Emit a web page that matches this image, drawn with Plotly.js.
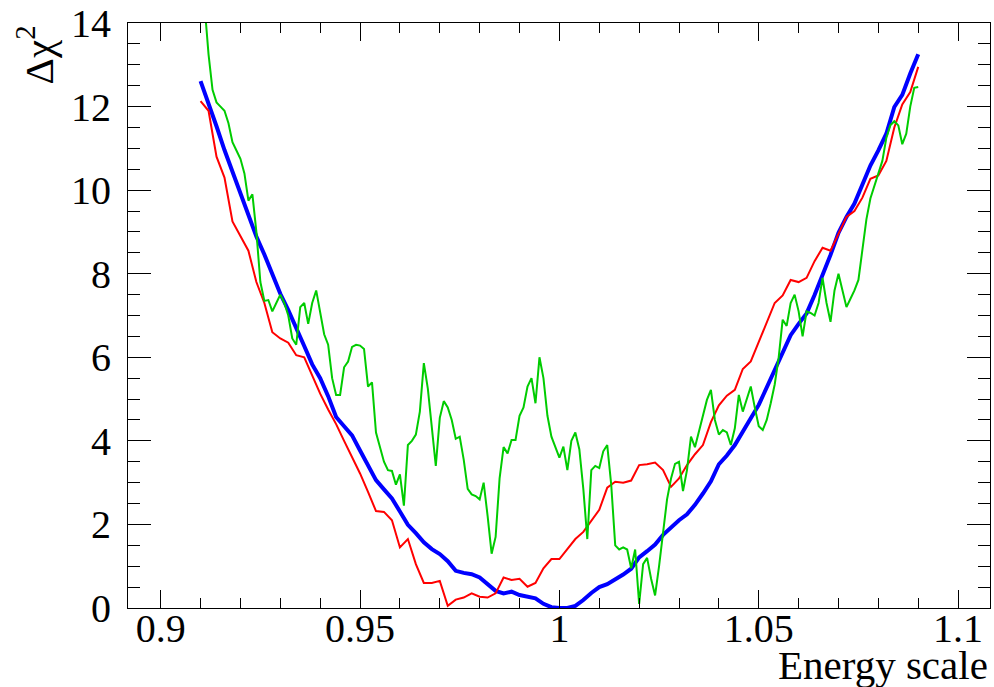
<!DOCTYPE html>
<html>
<head>
<meta charset="utf-8">
<script src="https://cdn.plot.ly/plotly-3.0.1.min.js"></script>
<style>
html,body{margin:0;padding:0;background:#fff;}
#chart{width:994px;height:687px;}
</style>
</head>
<body>
<div id="chart"></div>
<script>
// Energy-scale grid, step 0.002 (blue & red scans)
const scaleCoarse = [0.910,0.912,0.914,0.916,0.918,0.920,0.922,0.924,0.926,0.928,
0.930,0.932,0.934,0.936,0.938,0.940,0.942,0.944,0.946,0.948,
0.950,0.952,0.954,0.956,0.958,0.960,0.962,0.964,0.966,0.968,
0.970,0.972,0.974,0.976,0.978,0.980,0.982,0.984,0.986,0.988,
0.990,0.992,0.994,0.996,0.998,1.000,1.002,1.004,1.006,1.008,
1.010,1.012,1.014,1.016,1.018,1.020,1.022,1.024,1.026,1.028,
1.030,1.032,1.034,1.036,1.038,1.040,1.042,1.044,1.046,1.048,
1.050,1.052,1.054,1.056,1.058,1.060,1.062,1.064,1.066,1.068,
1.070,1.072,1.074,1.076,1.078,1.080,1.082,1.084,1.086,1.088,1.090];

const chi2Blue = [12.61,12.09,11.53,10.96,10.45,9.94,9.39,8.89,8.46,7.99,
7.52,7.13,6.67,6.27,5.83,5.50,5.07,4.57,4.35,4.13,
3.77,3.39,3.06,2.84,2.62,2.31,1.99,1.79,1.57,1.41,
1.29,1.12,0.89,0.84,0.81,0.73,0.57,0.41,0.35,0.39,
0.31,0.28,0.23,0.10,0.02,0.00,0.00,0.05,0.19,0.36,
0.50,0.57,0.68,0.80,0.94,1.21,1.36,1.52,1.75,1.94,
2.10,2.24,2.47,2.74,3.03,3.44,3.65,3.90,4.20,4.54,
4.86,5.29,5.72,6.14,6.53,6.80,7.05,7.49,7.95,8.45,
8.98,9.36,9.68,10.14,10.59,10.95,11.35,11.99,12.28,12.79,13.25];

const chi2Red = [12.13,11.9,10.8,10.3,9.25,8.9,8.55,7.8,7.3,6.6,
6.45,6.35,6.05,6.0,5.55,5.13,4.75,4.4,4.0,3.62,
3.22,2.78,2.32,2.3,2.1,1.45,1.65,1.05,0.6,0.6,
0.65,0.05,0.2,0.25,0.35,0.27,0.25,0.35,0.73,0.67,
0.7,0.51,0.6,0.95,1.17,1.17,1.4,1.65,1.82,2.1,
2.35,2.88,3.02,3.0,3.05,3.42,3.44,3.48,3.3,2.9,
3.1,3.42,3.68,3.9,4.45,4.85,5.08,5.22,5.72,5.9,
6.37,6.8,7.3,7.48,7.85,7.8,7.9,8.3,8.62,8.55,
8.95,9.36,9.5,9.82,10.27,10.35,10.7,11.5,12.05,12.35,12.95];

// Energy-scale grid, step 0.001 (green scan)
const scaleFine = [0.910,0.911,0.912,0.913,0.914,0.915,0.916,0.917,0.918,0.919,
0.920,0.921,0.922,0.923,0.924,0.925,0.926,0.927,0.928,0.929,
0.930,0.931,0.932,0.933,0.934,0.935,0.936,0.937,0.938,0.939,
0.940,0.941,0.942,0.943,0.944,0.945,0.946,0.947,0.948,0.949,
0.950,0.951,0.952,0.953,0.954,0.955,0.956,0.957,0.958,0.959,
0.960,0.961,0.962,0.963,0.964,0.965,0.966,0.967,0.968,0.969,
0.970,0.971,0.972,0.973,0.974,0.975,0.976,0.977,0.978,0.979,
0.980,0.981,0.982,0.983,0.984,0.985,0.986,0.987,0.988,0.989,
0.990,0.991,0.992,0.993,0.994,0.995,0.996,0.997,0.998,0.999,
1.000,1.001,1.002,1.003,1.004,1.005,1.006,1.007,1.008,1.009,
1.010,1.011,1.012,1.013,1.014,1.015,1.016,1.017,1.018,1.019,
1.020,1.021,1.022,1.023,1.024,1.025,1.026,1.027,1.028,1.029,
1.030,1.031,1.032,1.033,1.034,1.035,1.036,1.037,1.038,1.039,
1.040,1.041,1.042,1.043,1.044,1.045,1.046,1.047,1.048,1.049,
1.050,1.051,1.052,1.053,1.054,1.055,1.056,1.057,1.058,1.059,
1.060,1.061,1.062,1.063,1.064,1.065,1.066,1.067,1.068,1.069,
1.070,1.071,1.072,1.073,1.074,1.075,1.076,1.077,1.078,1.079,
1.080,1.081,1.082,1.083,1.084,1.085,1.086,1.087,1.088,1.089,1.090];

const chi2Green = [15.6,14.4,13.25,12.4,12.1,12.0,11.9,11.6,11.15,10.95,
10.75,10.4,9.75,9.9,9.0,7.8,7.35,7.37,7.1,7.3,
7.5,7.3,7.0,6.45,6.3,7.2,7.3,6.8,7.3,7.6,
7.1,6.55,6.3,5.5,5.1,5.1,5.76,5.9,6.25,6.3,
6.28,6.2,5.3,5.4,4.2,3.85,3.5,3.3,3.28,2.95,
3.2,2.45,3.9,4.0,4.15,4.7,5.86,5.25,4.3,3.4,
4.55,4.95,4.8,4.5,4.05,4.1,3.55,2.85,2.72,2.68,
2.6,3.0,2.2,1.3,1.7,3.1,3.85,3.7,4.02,4.02,
4.6,4.8,5.3,5.5,4.9,6.0,5.5,4.6,4.1,3.85,
3.6,3.86,3.3,4.0,4.2,3.8,2.85,1.65,3.3,3.4,
3.35,3.75,3.9,2.95,1.5,1.4,1.45,1.4,0.95,1.4,
0.1,1.05,1.2,0.7,0.3,1.0,1.75,2.6,3.1,3.45,
3.5,2.8,3.3,4.1,3.85,4.25,4.62,4.98,5.22,4.5,
4.15,4.26,4.2,3.9,4.3,5.1,4.7,5.0,5.3,4.8,
4.35,4.26,4.5,4.9,5.35,6.0,6.9,6.75,7.3,7.5,
7.1,6.5,7.1,7.06,7.0,7.3,7.9,7.3,6.85,7.6,
8.0,7.6,7.2,7.4,7.6,7.85,8.6,9.3,9.8,10.1,
10.4,10.7,11.25,11.55,11.65,11.55,11.1,11.35,12.0,12.45,12.47];

const xTickVals = [0.9, 0.95, 1, 1.05, 1.1];
const xTickText = ['0.9', '0.95', '1', '1.05', '1.1'];
const yTickVals = [0, 2, 4, 6, 8, 10, 12, 14];
const yTickText = ['0', '2', '4', '6', '8', '10', '12', '14'];

const FONT = "'Liberation Serif', 'DejaVu Serif', serif";

const traces = [
  {x: scaleCoarse, y: chi2Blue, mode: 'lines', line: {color: '#0000ff', width: 4}, hoverinfo: 'skip'},
  {x: scaleCoarse, y: chi2Red, mode: 'lines', line: {color: '#ff0000', width: 2}, hoverinfo: 'skip'},
  {x: scaleFine, y: chi2Green, mode: 'lines', line: {color: '#00cc00', width: 2}, hoverinfo: 'skip'}
];

const layout = {
  width: 994, height: 687,
  margin: {l: 128, r: 4, t: 23, b: 79, pad: 0},
  paper_bgcolor: '#ffffff', plot_bgcolor: '#ffffff',
  showlegend: false,
  font: {family: FONT, color: '#000000'},
  xaxis: {
    range: [0.8918, 1.108],
    tickmode: 'array', tickvals: xTickVals, ticktext: xTickText,
    ticks: 'inside', ticklen: 18, tickwidth: 1, tickcolor: '#000',
    minor: {dtick: 0.01, ticks: 'inside', ticklen: 10, tickwidth: 1, tickcolor: '#000', showgrid: false},
    showline: true, linecolor: '#000', linewidth: 1, mirror: 'ticks',
    showgrid: false, zeroline: false,
    tickfont: {family: FONT, size: 40, color: '#000'},
    ticklabelstandoff: -15
  },
  yaxis: {
    range: [0, 14],
    tickmode: 'array', tickvals: yTickVals, ticktext: yTickText,
    ticks: 'inside', ticklen: 23, tickwidth: 1, tickcolor: '#000',
    minor: {dtick: 0.5, ticks: 'inside', ticklen: 12, tickwidth: 1, tickcolor: '#000', showgrid: false},
    showline: true, linecolor: '#000', linewidth: 1, mirror: 'ticks',
    showgrid: false, zeroline: false,
    tickfont: {family: FONT, size: 40, color: '#000'},
    ticklabelstandoff: 8
  },
  annotations: [
    {text: 'Energy scale', xref: 'paper', yref: 'paper', x: 1.0, y: -0.054,
     xanchor: 'right', yanchor: 'top', showarrow: false,
     font: {family: FONT, size: 41, color: '#000'}},
    {text: 'Δχ<sup>2</sup>', xref: 'paper', yref: 'paper', x: -0.108, y: 1.0,
     xanchor: 'center', yanchor: 'top', textangle: -90, showarrow: false,
     font: {family: FONT, size: 41, color: '#000'}}
  ]
};

Plotly.newPlot('chart', traces, layout, {staticPlot: true, displayModeBar: false});
</script>
</body>
</html>
